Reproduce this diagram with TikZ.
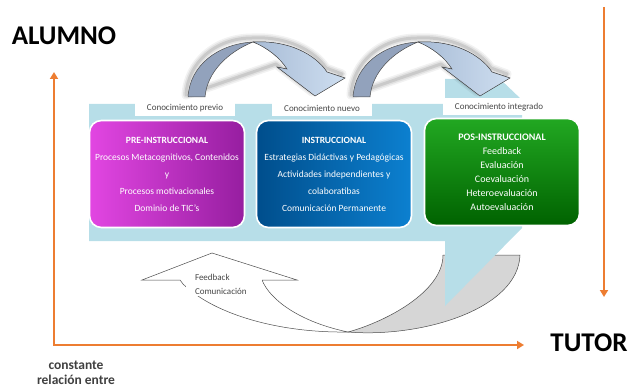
\documentclass[tikz,border=0pt]{standalone}
\usepackage{fontspec}
\setmainfont{Carlito}
\usepackage{tikz}
\usetikzlibrary{arrows.meta, positioning, calc}
\definecolor{bandblue}{RGB}{183,222,232}
\definecolor{orangeax}{RGB}{237,125,49}
\definecolor{prelight}{RGB}{226,70,226}
\definecolor{predark}{RGB}{150,30,160}
\definecolor{inslight}{RGB}{12,128,208}
\definecolor{insdark}{RGB}{0,78,140}
\definecolor{poslight}{RGB}{34,168,34}
\definecolor{posdark}{RGB}{0,98,0}
\definecolor{arclight}{RGB}{206,222,240}
\definecolor{arcmid}{RGB}{168,188,214}
\definecolor{arcback}{RGB}{146,162,188}
\definecolor{labelgray}{RGB}{70,70,70}

\begin{document}
\begin{tikzpicture}[x=1pt, y=-1pt,
  stagebox/.style={rounded corners=12pt, draw=white, line width=1.6pt, minimum width=155pt, minimum height=107pt, text=white, align=center},
  knowlabel/.style={fill=white, minimum height=17pt, inner sep=1pt, text=labelgray, font=\fontsize{9}{10}\selectfont},
  axis/.style={draw=orangeax, line width=2.2pt},
  bigword/.style={font=\fontsize{27}{30}\selectfont\bfseries, inner sep=0pt},
  arcline/.style={draw=black!70, line width=0.5pt}]
  \useasboundingbox (0,0) rectangle (628,390);

  % curved arrow below (feedback)
  \fill[black!16, arcline] (348,332) .. controls (385,322) and (443,292) .. (443,255) -- (520,255)
    .. controls (518,310) and (420,338) .. (348,332) -- cycle;
  \filldraw[white, arcline] (180,280) -- (142,280) -- (212,253) -- (297,280) -- (262,280)
    .. controls (270,300) and (300,322) .. (348,332)
    .. controls (280,333) and (215,315) .. (183,284) -- cycle;
  \node[fill=white, text width=58pt, inner xsep=9pt, inner ysep=2pt, align=left, text=labelgray,
    font=\fontsize{9}{14}\selectfont] (feedback) at (224,284) {Feedback\\Comunicación};

  % light blue band
  \fill[bandblue] (89,104) -- (445,104) -- (445,79) -- (500,79) -- (522,100) -- (522,228)
    -- (445,306) -- (445,241) -- (89,241) -- cycle;

  % stage boxes
  \node[stagebox, left color=prelight, right color=predark, font=\fontsize{9.5}{17}\selectfont] (pre) at (167,174)
    {\textbf{PRE-INSTRUCCIONAL}\\Procesos Metacognitivos, Contenidos\\y\\Procesos motivacionales\\Dominio de TIC’s};
  \node[stagebox, left color=insdark, right color=inslight, font=\fontsize{9.5}{17}\selectfont] (ins) at (334,174)
    {\textbf{INSTRUCCIONAL}\\Estrategias Didáctivas y Pedagógicas\\Actividades independientes y\\colaboratibas\\Comunicación Permanente};
  \node[stagebox, top color=poslight, bottom color=posdark, font=\fontsize{10}{14}\selectfont] (pos) at (502,172)
    {\textbf{POS-INSTRUCCIONAL}\\Feedback\\Evaluación\\Coevaluación\\Heteroevaluación\\Autoevaluación};

  % knowledge labels
  \node[knowlabel, minimum width=100pt] (previo) at (185,108) {Conocimiento previo};
  \node[knowlabel, minimum width=100pt] (nuevo) at (322,108) {Conocimiento nuevo};
  \node[knowlabel, minimum width=112pt] (integrado) at (499,107) {Conocimiento integrado};

  % curved arrows on top
  \foreach \dx in {0,165}{
    \begin{scope}[xshift=\dx]
      \foreach \w/\o in {9/0.05,6/0.07,3/0.1}
        \draw[black, line width=\w pt, opacity=\o, line join=round] (186,95) .. controls (188,62) and (216,38) .. (252,38)
          .. controls (286,36) and (314,50) .. (326,68) -- (342,74) -- (312,92) -- (276,64) -- cycle;
      \filldraw[fill=arcback, arcline] (188,97) .. controls (190,65) and (218,44) .. (253,42)
        .. controls (228,52) and (207,72) .. (205,97) -- cycle;
      \filldraw[left color=arcmid, right color=arclight, arcline] (253,42) .. controls (288,40) and (315,54) .. (327,72)
        -- (345,78) -- (315,96) -- (277,67) -- (287,69) .. controls (280,58) and (268,48) .. (253,42) -- cycle;
    \end{scope}
  }

  % axes
  \coordinate (origin) at (54,345);
  \coordinate (alumnotip) at (54,72);
  \coordinate (tutortip) at (524,345);
  \coordinate (tutortop) at (604,7);
  \coordinate (tutordown) at (604,297);
  \draw[axis, {Triangle[length=7pt,width=8pt]}-{Triangle[length=7pt,width=8pt]}] (alumnotip) -- (origin) -- (tutortip);
  \draw[axis, -{Triangle[length=7pt,width=8pt]}] (tutortop) -- (tutordown);

  \node[bigword] (alumno) at (64,36) {ALUMNO};
  \node[bigword] (tutor) at (589,343) {TUTOR};
  \node[align=center, text=black!75, font=\fontsize{13.5}{15}\selectfont\bfseries] (relacion) at (76,373) {constante\\relación entre};
\end{tikzpicture}
\end{document}
